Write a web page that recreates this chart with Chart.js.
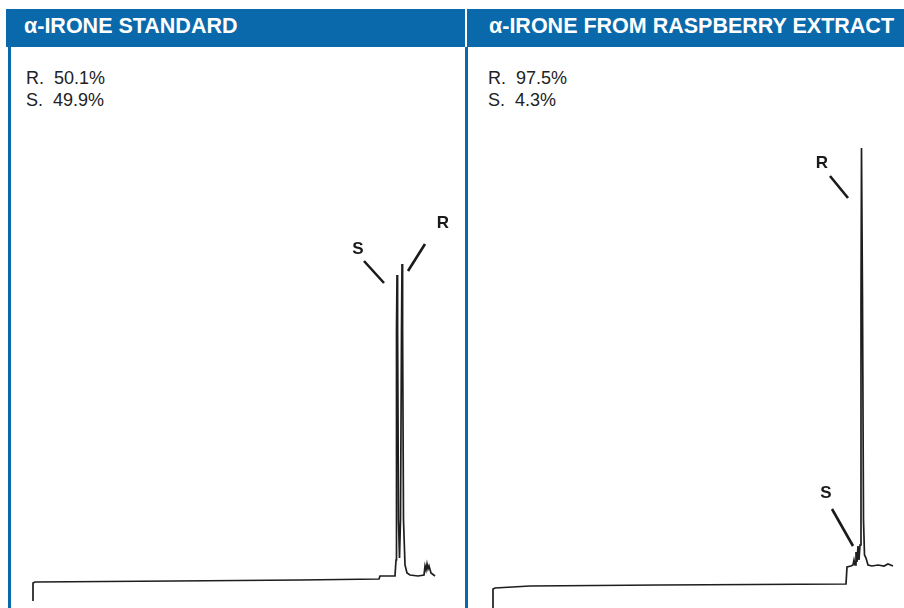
<!DOCTYPE html>
<html>
<head>
<meta charset="utf-8">
<script src="https://cdn.jsdelivr.net/npm/chart.js@4.4.0/dist/chart.umd.min.js"></script>
<style>
  body { margin: 0; width: 904px; height: 608px; background: #fff; overflow: hidden; position: relative;
         font-family: "Liberation Sans", Arial, sans-serif; }
  .head { position: absolute; top: 9px; height: 38px; background: #0a69ab; color: #fff;
          font-weight: bold; font-size: 21.5px; line-height: 35px; white-space: nowrap; }
  .vline { position: absolute; top: 47px; bottom: 0; width: 2.5px; background: #0a69ab; }
  .pct { position: absolute; top: 67px; font-size: 18px; line-height: 22px; color: #222; white-space: pre; }
  canvas { position: absolute; top: 47px; }
</style>
</head>
<body>
<div class="head" style="left:6px; width:459px; padding-left:18px; box-sizing:border-box;">α-IRONE STANDARD</div>
<div class="head" style="left:467px; width:437px; padding-left:22px; box-sizing:border-box;">α-IRONE FROM RASPBERRY EXTRACT</div>
<div class="vline" style="left:8px;"></div>
<div class="vline" style="left:465px;"></div>
<div class="pct" style="left:26px;">R.  50.1%
S.  49.9%</div>
<div class="pct" style="left:488px;">R.  97.5%
S.  4.3%</div>
<canvas id="stdChart" width="455" height="561" style="left:10px;"></canvas>
<canvas id="rasChart" width="436" height="561" style="left:468px;"></canvas>
<script>
// retention (arbitrary time units) and detector response
const stdTime = [2.3, 2.3, 2.5, 16.5, 29, 36.9, 37.0, 38.5, 38.6, 38.65, 38.7, 38.76, 38.85, 38.95, 39.05, 39.15, 39.2, 39.26, 39.35, 39.5, 39.7, 40.0, 40.8, 41.4, 41.5, 41.6, 41.7, 41.8, 41.9, 42.1, 42.5];
const stdResp = [-19, -1, 0, 1, 2, 3, 6, 6, 22, 252, 307, 252, 62, 24, 62, 252, 318, 252, 62, 17, 9, 7, 6, 7, 16, 12, 18, 13, 16, 9, 6];

const rasTime = [2.5, 2.5, 2.7, 6.2, 19.2, 37.8, 37.9, 38.3, 38.5, 38.6, 38.7, 38.8, 38.9, 39.0, 39.1, 39.2, 39.3, 39.35, 39.45, 39.55, 39.65, 39.8, 40.0, 40.4, 41.0, 41.6, 42.0, 42.5];
const rasResp = [-20, -1, 0, 2, 3, 4, 21, 22, 23, 28, 23, 36, 26, 42, 28, 43, 288, 440, 288, 68, 33, 30, 23, 22, 23, 22, 24, 22];

// peak labels: text, label point, pointer from / to
const stdLabels = ['S', 'R'];
const stdLabelAt = [[34.8, 333], [43.3, 359]];
const stdPointers = [[[35.4, 321], [37.4, 299]], [[41.5, 338], [39.8, 311]]];

const rasLabels = ['R', 'S'];
const rasLabelAt = [[35.4, 425], [35.8, 95]];
const rasPointers = [[[36.2, 412], [38.0, 390]], [[36.4, 79], [38.5, 42]]];

const labelPlugin = {
  id: 'peakLabels',
  afterDatasetsDraw(chart, args, opts) {
    const ctx = chart.ctx;
    const xs = chart.scales.x, ys = chart.scales.y;
    ctx.save();
    ctx.fillStyle = '#1a1a1a';
    ctx.font = 'bold 17px "Liberation Sans", Arial, sans-serif';
    ctx.textAlign = 'center';
    ctx.textBaseline = 'middle';
    opts.labels.forEach((t, i) => {
      ctx.fillText(t, xs.getPixelForValue(opts.at[i][0]), ys.getPixelForValue(opts.at[i][1]));
    });
    ctx.restore();
  }
};

function makeChart(id, time, resp, pointers, labels, labelAt, xMax, yMin, yMax) {
  const datasets = [{
    data: time.map((t, i) => ({ x: t, y: resp[i] })),
    borderColor: '#1e1e1e',
    borderWidth: 1.7
  }];
  pointers.forEach(p => {
    datasets.push({
      data: p.map(q => ({ x: q[0], y: q[1] })),
      borderColor: '#1a1a1a',
      borderWidth: 2.6
    });
  });
  return new Chart(id, {
    type: 'line',
    data: { datasets },
    options: {
      responsive: false,
      animation: false,
      layout: { padding: 0 },
      elements: { point: { radius: 0 }, line: { tension: 0 } },
      scales: {
        x: { type: 'linear', min: 0, max: xMax, display: false },
        y: { type: 'linear', min: yMin, max: yMax, display: false }
      },
      plugins: {
        legend: { display: false },
        tooltip: { enabled: false },
        peakLabels: { labels, at: labelAt }
      }
    },
    plugins: [labelPlugin]
  });
}

makeChart('stdChart', stdTime, stdResp, stdPointers, stdLabels, stdLabelAt, 45.5, -26, 535);
makeChart('rasChart', rasTime, rasResp, rasPointers, rasLabels, rasLabelAt, 43.6, -20, 541);
</script>
</body>
</html>
